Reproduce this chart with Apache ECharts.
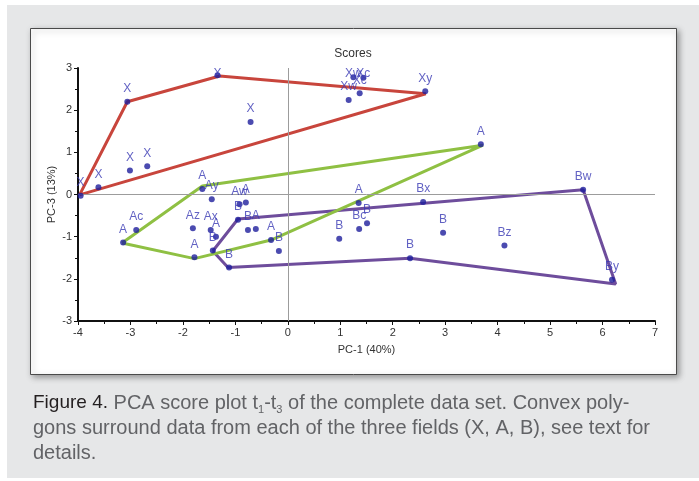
<!DOCTYPE html>
<html><head><meta charset="utf-8">
<script src="https://cdn.jsdelivr.net/npm/echarts@6/dist/echarts.min.js"></script>
<style>html,body{margin:0;padding:0;background:#fff}#c{width:699px;height:481px}</style>
</head><body><div id="c"></div>
<script>
// Axis ranges
const pc1Min = -4, pc1Max = 7, pc1Step = 1;
const pc3Min = -3, pc3Max = 3, pc3Step = 1;

// Field X
const xNames = ['X','X','X','X','X','X','X','Xy','Xw','Xc','Xw','Xc'];
const xPC1   = [-3.95,-3.61,-3.06,-1.34,-0.71,-3.01,-2.68,2.62,1.16,1.37,1.25,1.44];
const xPC3   = [-0.03, 0.17, 2.20, 2.83, 1.72, 0.57, 0.67,2.45,2.24,2.40,2.78,2.77];

// Field A
const aNames = ['A','Ac','A','Ay','Aw','A','Az','Ax','A','A','A','A','A','A'];
const aPC1   = [-3.14,-2.89,-1.63,-1.45,-0.92,-0.80,-1.81,-1.47,-1.37,-1.78,-0.61,-0.32,1.35,3.68];
const aPC3   = [-1.14,-0.84, 0.13,-0.11,-0.23,-0.19,-0.80,-0.84,-1.00,-1.49,-0.82,-1.08,-0.20,1.19];

// Field B
const bNames = ['B','B','B','B','B','B','Bc','B','Bx','B','Bz','B','Bw','By'];
const bPC1   = [-0.95,-0.76,-1.43,-1.12,-0.17,0.98,1.36,1.51,2.58,2.96,4.13,2.33,5.63,6.18];
const bPC3   = [-0.60,-0.84,-1.33,-1.73,-1.34,-1.05,-0.82,-0.68,-0.18,-0.91,-1.21,-1.51,0.11,-2.02];

// Convex polygons (as drawn)
const hullX = [[-3.97,-0.01],[-3.06,2.20],[-1.30,2.81],[2.63,2.39],[-3.97,-0.01]];
const hullA = [[-3.16,-1.15],[-1.63,0.20],[3.72,1.17],[-0.32,-1.08],[-1.78,-1.52],[-3.16,-1.15]];
const hullB = [[-1.43,-1.34],[-0.95,-0.58],[5.63,0.11],[6.25,-2.12],[2.33,-1.51],[-1.14,-1.73],[-1.43,-1.34]];

const FONT = 'Liberation Sans, Arial, sans-serif';
const GRID = {left: 78, right: 44, top: 68, bottom: 160};

function pts(names, p1, p3) {
  return names.map((n, i) => ({name: n, value: [p1[i], p3[i]]}));
}

const chart = echarts.init(document.getElementById('c'), null, {renderer: 'canvas', width: 699, height: 481});

function axis(min, max, step, name, gap) {
  return {
    type: 'value', min: min, max: max, interval: step,
    name: name, nameLocation: 'middle', nameGap: gap, nameMoveOverlap: false,
    nameTextStyle: {fontSize: 11, color: '#333', fontFamily: FONT},
    axisLine: {show: true, onZero: false, lineStyle: {color: '#111', width: 2}},
    axisTick: {show: true, length: 4, inside: false, lineStyle: {color: '#111', width: 1}},
    minorTick: {show: true, splitNumber: 2, length: 3, lineStyle: {color: '#111', width: 1}},
    splitLine: {show: false},
    axisLabel: {fontSize: 11, color: '#333', fontFamily: FONT, margin: 6}
  };
}

const scatterBase = {
  type: 'scatter', symbol: 'circle', symbolSize: 6, z: 5,
  itemStyle: {color: '#1e1e9c'},
  label: {show: true, position: 'top', distance: 4, formatter: '{b}',
          color: '#3a3ab4', fontSize: 12, fontFamily: FONT},
  labelLayout: function (p) {
    if (p.labelRect.y < GRID.top) return {dy: GRID.top - p.labelRect.y};
    return {};
  }
};

function hull(data, color) {
  return {type: 'line', data: data, symbol: 'none', z: 3,
          lineStyle: {color: color, width: 3}, silent: true};
}

const cap1 = '{f|Figure 4.} PCA score plot t{s|1}-t{s|3} of the complete data set. Convex poly-';
const cap2 = 'gons surround data from each of the three fields (X, A, B), see text for';
const cap3 = 'details.';
const capStyle = {fontSize: 20, fontFamily: FONT, fill: '#626366', lineHeight: 24};

chart.setOption({
  animation: false,
  backgroundColor: '#ffffff',
  grid: GRID,
  xAxis: axis(pc1Min, pc1Max, pc1Step, 'PC-1 (40%)', 23),
  yAxis: axis(pc3Min, pc3Max, pc3Step, 'PC-3 (13%)', 21),
  graphic: [
    {type: 'rect', z: -20, silent: true, shape: {x: 7, y: 5, width: 692, height: 473}, style: {fill: '#e6e7e8'}},
    {type: 'rect', z: -19, silent: true, shape: {x: 30.5, y: 28.5, width: 646, height: 346},
     style: {fill: '#ffffff', stroke: '#4a4a4a', lineWidth: 1,
             shadowBlur: 6, shadowColor: 'rgba(0,0,0,0.35)', shadowOffsetX: 2, shadowOffsetY: 2}},
    {type: 'text', x: 353, y: 54, z: 10, silent: true,
     style: {text: 'Scores', align: 'center', verticalAlign: 'middle', fontSize: 12, fontFamily: FONT, fill: '#333'}},
    {type: 'text', x: 33, y: 403, z: 10, silent: true,
     style: Object.assign({}, capStyle, {text: cap1, verticalAlign: 'middle',
       rich: {f: {fontSize: 19, fontFamily: FONT, fill: '#231f20', lineHeight: 24},
              s: {fontSize: 11, fontFamily: FONT, fill: '#626366', lineHeight: 24, verticalAlign: 'bottom'}}})},
    {type: 'text', x: 33, y: 428, z: 10, silent: true,
     style: Object.assign({}, capStyle, {text: cap2, verticalAlign: 'middle'})},
    {type: 'text', x: 33, y: 453, z: 10, silent: true,
     style: Object.assign({}, capStyle, {text: cap3, verticalAlign: 'middle'})}
  ],
  series: [
    Object.assign(hull(hullX, '#c8453c'), {
      markLine: {silent: true, symbol: ['none', 'none'], label: {show: false},
                 lineStyle: {color: '#9c9c9c', width: 1, type: 'solid'},
                 data: [{xAxis: 0}, {yAxis: 0}]}
    }),
    hull(hullB, '#6e4d9c'),
    hull(hullA, '#8fc043'),
    Object.assign({}, scatterBase, {name: 'X', data: pts(xNames, xPC1, xPC3)}),
    Object.assign({}, scatterBase, {name: 'A', data: pts(aNames, aPC1, aPC3)}),
    Object.assign({}, scatterBase, {name: 'B', data: pts(bNames, bPC1, bPC3)})
  ]
});
</script></body></html>
